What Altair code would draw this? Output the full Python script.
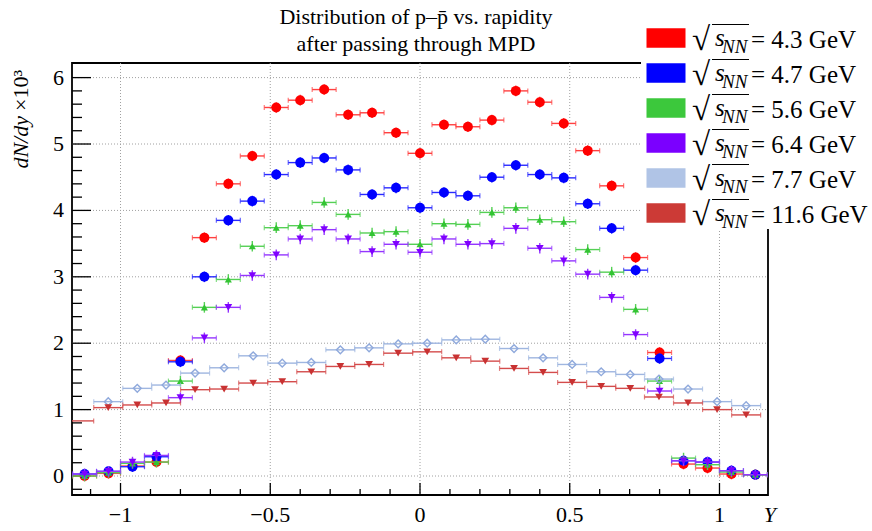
import altair as alt
import pandas as pd
import numpy as np

FONT = "Liberation Serif"
W, H = 696, 432
XDOM = [-1.162, 1.162]
YDOM = [-0.286, 6.22]

# ---------------- data ----------------
X_A = [-1.12, -1.04, -0.96, -0.88, -0.80, -0.72, -0.64, -0.56, -0.48, -0.40,
       -0.32, -0.24, -0.16, -0.08, 0.00, 0.08, 0.16, 0.24, 0.32, 0.40,
       0.48, 0.56, 0.64, 0.72, 0.80, 0.88, 0.96, 1.04, 1.12]
Y_43 = [0.00, 0.04, 0.15, 0.21, 1.74, 3.59, 4.40, 4.82, 5.55, 5.66,
        5.82, 5.44, 5.47, 5.17, 4.86, 5.29, 5.26, 5.36, 5.80, 5.63,
        5.31, 4.90, 4.37, 3.29, 1.86, 0.18, 0.12, 0.03, 0.02]
Y_47 = [0.03, 0.07, 0.14, 0.29, 1.72, 3.00, 3.85, 4.14, 4.54, 4.72,
        4.79, 4.61, 4.24, 4.34, 4.04, 4.27, 4.22, 4.50, 4.68, 4.54,
        4.49, 4.10, 3.73, 3.10, 1.77, 0.23, 0.21, 0.08, 0.02]
Y_56 = [0.00, 0.05, 0.19, 0.21, 1.43, 2.54, 2.96, 3.46, 3.74, 3.77,
        4.12, 3.94, 3.66, 3.68, 3.49, 3.80, 3.79, 3.97, 4.04, 3.86,
        3.83, 3.41, 3.07, 2.51, 1.43, 0.27, 0.17, 0.06, 0.02]
Y_64 = [0.03, 0.07, 0.21, 0.31, 1.18, 2.08, 2.54, 3.02, 3.33, 3.57,
        3.71, 3.57, 3.38, 3.49, 3.37, 3.57, 3.49, 3.50, 3.73, 3.43,
        3.24, 3.04, 2.69, 2.13, 1.28, 0.23, 0.21, 0.08, 0.02]
HALF_A = 0.04
YERR_A = 0.08

X_77 = [-1.041, -0.944, -0.848, -0.751, -0.654, -0.557, -0.460, -0.363,
        -0.266, -0.170, -0.073, 0.024, 0.121, 0.218, 0.314, 0.411,
        0.508, 0.605, 0.702, 0.798, 0.895, 0.992, 1.089]
Y_77 = [1.12, 1.32, 1.37, 1.55, 1.63, 1.81, 1.70, 1.71, 1.90, 1.93, 1.99,
        2.00, 2.05, 2.06, 1.92, 1.78, 1.68, 1.57, 1.53, 1.46, 1.31, 1.12, 1.06]
X_116 = [-1.138, -1.041, -0.944, -0.848, -0.751, -0.654, -0.557, -0.460,
         -0.363, -0.266, -0.170, -0.073, 0.024, 0.121, 0.218, 0.314,
         0.411, 0.508, 0.605, 0.702, 0.798, 0.895, 0.992, 1.089]
Y_116 = [0.83, 1.03, 1.07, 1.10, 1.30, 1.31, 1.40, 1.42, 1.57, 1.65, 1.68, 1.85,
         1.87, 1.78, 1.73, 1.62, 1.56, 1.41, 1.35, 1.32, 1.19, 1.10, 1.00, 0.92]
HALF_B = 0.0484
YERR_B = 0.0

ENERGIES = ["4.3", "4.7", "5.6", "6.4", "7.7", "11.6"]
LEGEND_COLORS = ["#ff0000", "#0000ff", "#3cc83c", "#7b00ff", "#b0c4e6", "#cc3a36"]
MARK_COLORS = ["#ff0000", "#0000ff", "#33c433", "#7f00ff", "#8fa9dc", "#c83232"]
BAR_COLORS = ["#ff4040", "#2a2aff", "#55d055", "#9436ff", "#9fb6e0", "#d44c4c"]
SHAPES = ["circle", "circle", "triangle-up", "triangle-down", "diamond", "triangle-down"]
FILLED = [True, True, True, True, False, True]
SIZES = [100, 100, 50, 60, 60, 60]

SERIES_X = [X_A, X_A, X_A, X_A, X_77, X_116]
SERIES_Y = [Y_43, Y_47, Y_56, Y_64, Y_77, Y_116]
SERIES_HW = [HALF_A, HALF_A, HALF_A, HALF_A, HALF_B, HALF_B]
SERIES_YERR = [YERR_A, YERR_A, YERR_A, YERR_A, YERR_B, YERR_B]

TITLE_LINES = ["Distribution of p–p̄ vs. rapidity", "after passing through MPD"]
Y_TITLE_VAR = "dN/dy"
Y_TITLE_SCALE = "×10³"
X_TITLE = "Y"

YT_MAJOR = [0, 1, 2, 3, 4, 5, 6]
YT_LABELS = ["0", "1", "2", "3", "4", "5", "6"]
YT_MINOR = [float(v) for v in np.round(np.arange(-0.2, 6.01, 0.2), 2) if abs(v - round(v)) > 1e-6]
XT_MAJOR = [-1, -0.5, 0, 0.5, 1]
XT_LABELS = ["\u22121", "\u22120.5", "0", "0.5", "1"]
XT_MINOR = [float(v) for v in np.round(np.arange(-1.1, 1.101, 0.1), 2) if abs(v * 2 - round(v * 2)) > 1e-6]

xs = alt.Scale(domain=XDOM, nice=False, zero=False)
ys = alt.Scale(domain=YDOM, nice=False, zero=False)


def X(field):
    return alt.X(field, scale=xs, axis=None)


def Y(field):
    return alt.Y(field, scale=ys, axis=None)


layers = []

# ---- gridlines (dotted) ----
gx = pd.DataFrame({"v": XT_MAJOR})
gy = pd.DataFrame({"v": YT_MAJOR})
layers.append(alt.Chart(gx).mark_rule(color="#a0a0a0", strokeWidth=1, strokeDash=[1, 2]).encode(
    x=X("v:Q"), y=alt.value(0), y2=alt.value(H)))
layers.append(alt.Chart(gy).mark_rule(color="#a0a0a0", strokeWidth=1, strokeDash=[1, 2]).encode(
    y=Y("v:Q"), x=alt.value(0), x2=alt.value(W)))

# ---- inward ticks ----
def yticks(vals, length):
    return alt.Chart(pd.DataFrame({"v": vals})).mark_rule(color="black", strokeWidth=1.3).encode(
        y=Y("v:Q"), x=alt.value(0), x2=alt.value(length))


def xticks(vals, length):
    return alt.Chart(pd.DataFrame({"v": vals})).mark_rule(color="black", strokeWidth=1.3).encode(
        x=X("v:Q"), y=alt.value(H), y2=alt.value(H - length))


layers += [yticks(YT_MAJOR, 19), yticks(YT_MINOR, 10), xticks(XT_MAJOR, 12), xticks(XT_MINOR, 6)]

# ---- tick labels ----
layers.append(alt.Chart(pd.DataFrame({"v": XT_MAJOR, "t": XT_LABELS})).mark_text(
    font=FONT, fontSize=22, align="center", baseline="alphabetic", color="black").encode(
    x=X("v:Q"), y=alt.value(H + 27), text="t:N"))
layers.append(alt.Chart(pd.DataFrame({"v": YT_MAJOR, "t": YT_LABELS})).mark_text(
    font=FONT, fontSize=22, align="right", baseline="middle", color="black").encode(
    y=Y("v:Q"), x=alt.value(-8), text="t:N"))

one = pd.DataFrame({"a": [0]})
# axis titles
layers.append(alt.Chart(one).mark_text(text=X_TITLE, font=FONT, fontSize=22, fontStyle="italic",
                                       align="right", baseline="alphabetic", color="black").encode(
    x=alt.value(704), y=alt.value(H + 27)))
layers.append(alt.Chart(one).mark_text(text=Y_TITLE_SCALE, font=FONT, fontSize=22,
                                       angle=270, align="right", baseline="alphabetic",
                                       color="black").encode(
    x=alt.value(-44), y=alt.value(7)))
layers.append(alt.Chart(one).mark_text(text=Y_TITLE_VAR, font=FONT, fontSize=22, fontStyle="italic",
                                       angle=270, align="right", baseline="alphabetic",
                                       color="black").encode(
    x=alt.value(-44), y=alt.value(53)))

# ---- data series ----
for i in range(len(ENERGIES)):
    df = pd.DataFrame({"x": SERIES_X[i], "y": SERIES_Y[i]})
    df["xlo"] = df["x"] - SERIES_HW[i]
    df["xhi"] = df["x"] + SERIES_HW[i]
    df["ylo"] = df["y"] - SERIES_YERR[i]
    df["yhi"] = df["y"] + SERIES_YERR[i]
    base = alt.Chart(df)
    hbar = base.mark_rule(color=BAR_COLORS[i], strokeWidth=1.4, clip=True).encode(
        x=X("xlo:Q"), x2="xhi:Q", y=Y("y:Q"))
    caps = base.transform_fold(["xlo", "xhi"], as_=["end", "xe"]).mark_tick(
        orient="vertical", color=BAR_COLORS[i], size=5, thickness=1.2, clip=True).encode(
        x=X("xe:Q"), y=Y("y:Q"))
    layers += [hbar, caps]
    if SERIES_YERR[i] > 0:
        vbar = base.mark_rule(color=BAR_COLORS[i], strokeWidth=1.4, clip=True).encode(
            x=X("x:Q"), y=Y("ylo:Q"), y2="yhi:Q")
        layers.append(vbar)
    pts = base.transform_filter(f"datum.x > {XDOM[0] + 0.03}").mark_point(
        shape=SHAPES[i], filled=FILLED[i], size=SIZES[i],
        color=MARK_COLORS[i], opacity=1,
        strokeWidth=1.4 if not FILLED[i] else 0.5, clip=True).encode(
        x=X("x:Q"), y=Y("y:Q"))
    layers.append(pts)

# ---- legend box (manual) ----
layers.append(alt.Chart(one).mark_rect(color="white").encode(
    x=alt.value(569), x2=alt.value(812), y=alt.value(-50), y2=alt.value(166)))

for i, e in enumerate(ENERGIES):
    yc = -25 + 35 * i
    c = alt.Chart(one)
    layers.append(c.mark_point(shape="M-1,-0.5H1V0.5H-1Z", filled=True, size=1521,
                               color=LEGEND_COLORS[i], opacity=1, strokeWidth=0).encode(
        x=alt.value(594), y=alt.value(yc)))
    layers.append(c.mark_text(text="√", font=FONT, fontSize=33, align="left",
                              baseline="alphabetic", color="black").encode(
        x=alt.value(620), y=alt.value(yc + 12)))
    layers.append(c.mark_rule(color="black", strokeWidth=1.2).encode(
        x=alt.value(640), x2=alt.value(677), y=alt.value(yc - 13.5)))
    layers.append(c.mark_text(text="s", font=FONT, fontSize=25, fontStyle="italic",
                              align="left", baseline="alphabetic", color="black").encode(
        x=alt.value(643), y=alt.value(yc + 8)))
    layers.append(c.mark_text(text="NN", font=FONT, fontSize=19, fontStyle="italic",
                              align="left", baseline="alphabetic", color="black").encode(
        x=alt.value(650), y=alt.value(yc + 14.5)))
    layers.append(c.mark_text(text=f"= {e} GeV", font=FONT, fontSize=25,
                              align="left", baseline="alphabetic", color="black").encode(
        x=alt.value(679), y=alt.value(yc + 10)))

# ---- title (two centred lines) ----
for j, line in enumerate(TITLE_LINES):
    layers.append(alt.Chart(one).mark_text(text=line, font=FONT, fontSize=22, align="center",
                                           baseline="alphabetic", color="black").encode(
        x=alt.value(W / 2 - 4), y=alt.value(-39 + 27 * j)))

chart = alt.layer(*layers).properties(
    width=W, height=H,
    autosize=alt.AutoSizeParams(type="none"),
    padding={"left": 72, "top": 63, "right": 104, "bottom": 36},
    background="white",
).configure_view(
    stroke="black", strokeWidth=1.8, fill="white"
)

chart.save("out.html", embed_options={"renderer": "svg", "actions": False})
